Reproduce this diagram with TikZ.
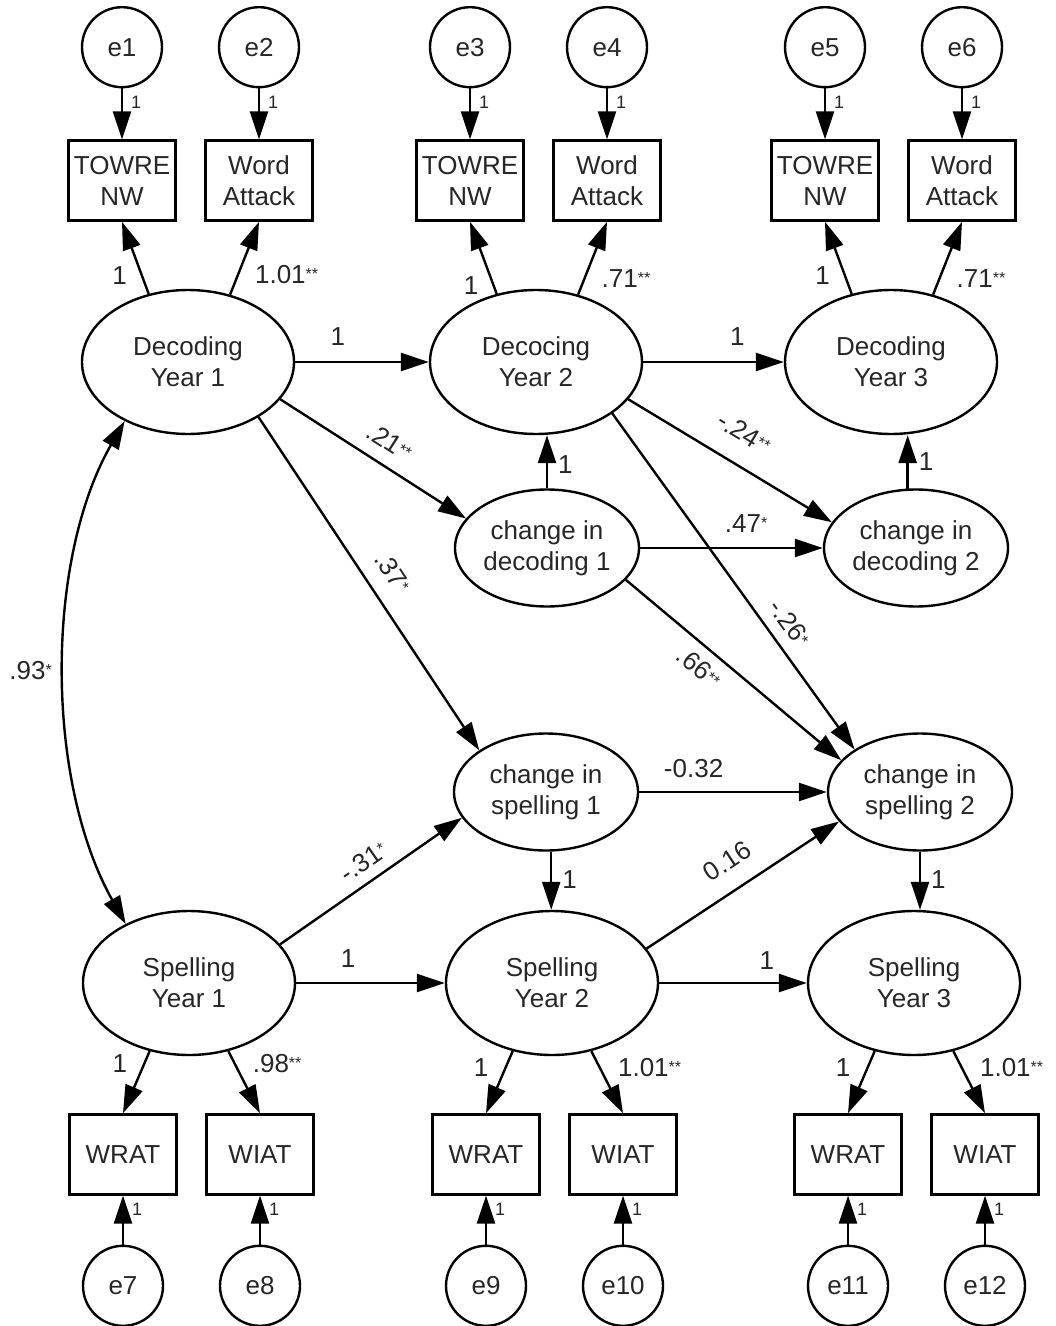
\documentclass[tikz,border=0pt]{standalone}
\usepackage{fontspec}
\setmainfont{Liberation Sans}
\usepackage{tikz}
\usetikzlibrary{arrows.meta,positioning,shapes.geometric}
\newcommand{\semfont}{\fontsize{13}{15.5}\selectfont}
\newcommand{\semsmall}{\fontsize{9}{10}\selectfont}
\newcommand{\sig}[1]{\raisebox{2pt}{\fontsize{8}{8}\selectfont #1}}
\tikzset{
  semlatent/.style={draw, ellipse, line width=1.2pt, minimum width=106pt, minimum height=72pt, inner sep=0pt, align=center, font=\semfont},
  semchange/.style={semlatent, minimum width=92pt, minimum height=58.5pt},
  semobs/.style={draw, line width=1.2pt, minimum width=53.5pt, minimum height=40pt, inner sep=1pt, align=center, font=\semfont},
  semerr/.style={draw, circle, line width=1.2pt, minimum size=40pt, inner sep=0pt, font=\semfont},
  semarrow/.style={-{Triangle[length=14pt,width=9pt]}, line width=1.2pt},
  semcov/.style={{Triangle[length=14pt,width=9pt]}-{Triangle[length=14pt,width=9pt]}, line width=1.2pt},
  semlab/.style={font=\semfont, inner sep=1pt},
  semone/.style={font=\semsmall, inner sep=1pt}
}

\begin{document}
\begin{tikzpicture}[x=0.5pt, y=-0.5pt, text=black!85]
\useasboundingbox (0,0) rectangle (1055,1326);

% latent variables
\node[semlatent] (dy1) at (188,362) {Decoding\\Year 1};
\node[semlatent] (dy2) at (536,362) {Decocing\\Year 2};
\node[semlatent] (dy3) at (891,362) {Decoding\\Year 3};
\node[semchange] (cd1) at (547,548) {change in\\decoding 1};
\node[semchange] (cd2) at (916,548) {change in\\decoding 2};
\node[semchange] (cs1) at (546,792) {change in\\spelling 1};
\node[semchange] (cs2) at (920,792) {change in\\spelling 2};
\node[semlatent] (sy1) at (189,983) {Spelling\\Year 1};
\node[semlatent] (sy2) at (552,983) {Spelling\\Year 2};
\node[semlatent] (sy3) at (914,983) {Spelling\\Year 3};

% decoding indicators
\node[semobs, above=33.5pt of dy1, xshift=-33pt] (tw1) {TOWRE\\NW};
\node[semobs, above=33.5pt of dy1, xshift=35.5pt] (wa1) {Word\\Attack};
\node[semobs, above=33.5pt of dy2, xshift=-33pt] (tw2) {TOWRE\\NW};
\node[semobs, above=33.5pt of dy2, xshift=35.5pt] (wa2) {Word\\Attack};
\node[semobs, above=33.5pt of dy3, xshift=-33pt] (tw3) {TOWRE\\NW};
\node[semobs, above=33.5pt of dy3, xshift=35.5pt] (wa3) {Word\\Attack};
\node[semerr, above=25.5pt of tw1] (e1) {e1};
\node[semerr, above=25.5pt of wa1] (e2) {e2};
\node[semerr, above=25.5pt of tw2] (e3) {e3};
\node[semerr, above=25.5pt of wa2] (e4) {e4};
\node[semerr, above=25.5pt of tw3] (e5) {e5};
\node[semerr, above=25.5pt of wa3] (e6) {e6};

% spelling indicators
\node[semobs, below=28.5pt of sy1, xshift=-33pt] (wr1) {WRAT};
\node[semobs, below=28.5pt of sy1, xshift=35.5pt] (wi1) {WIAT};
\node[semobs, below=28.5pt of sy2, xshift=-33pt] (wr2) {WRAT};
\node[semobs, below=28.5pt of sy2, xshift=35.5pt] (wi2) {WIAT};
\node[semobs, below=28.5pt of sy3, xshift=-33pt] (wr3) {WRAT};
\node[semobs, below=28.5pt of sy3, xshift=35.5pt] (wi3) {WIAT};
\node[semerr, below=24.5pt of wr1] (e7) {e7};
\node[semerr, below=24.5pt of wi1] (e8) {e8};
\node[semerr, below=24.5pt of wr2] (e9) {e9};
\node[semerr, below=24.5pt of wi2] (e10) {e10};
\node[semerr, below=24.5pt of wr3] (e11) {e11};
\node[semerr, below=24.5pt of wi3] (e12) {e12};

% error paths
\draw[semarrow] (e1) -- node[semone, pos=0.27, right=3pt] (o1) {1} (tw1);
\draw[semarrow] (e2) -- node[semone, pos=0.27, right=3pt] (o2) {1} (wa1);
\draw[semarrow] (e3) -- node[semone, pos=0.27, right=3pt] (o3) {1} (tw2);
\draw[semarrow] (e4) -- node[semone, pos=0.27, right=3pt] (o4) {1} (wa2);
\draw[semarrow] (e5) -- node[semone, pos=0.27, right=3pt] (o5) {1} (tw3);
\draw[semarrow] (e6) -- node[semone, pos=0.27, right=3pt] (o6) {1} (wa3);
\draw[semarrow] (e7) -- node[semone, pos=0.73, right=3pt] (o7) {1} (wr1);
\draw[semarrow] (e8) -- node[semone, pos=0.73, right=3pt] (o8) {1} (wi1);
\draw[semarrow] (e9) -- node[semone, pos=0.73, right=3pt] (o9) {1} (wr2);
\draw[semarrow] (e10) -- node[semone, pos=0.73, right=3pt] (o10) {1} (wi2);
\draw[semarrow] (e11) -- node[semone, pos=0.73, right=3pt] (o11) {1} (wr3);
\draw[semarrow] (e12) -- node[semone, pos=0.73, right=3pt] (o12) {1} (wi3);

% loadings
\draw[semarrow] (dy1.120) -- node[semlab, pos=0.25, left=6pt] (ld1) {1} (tw1.south);
\draw[semarrow] (dy1.58) -- node[semlab, pos=0.27, right=7pt] (ld2) {1.01\sig{**}} (wa1.south);
\draw[semarrow] (dy2.120) -- node[semlab, pos=0.12, left=6pt] (ld3) {1} (tw2.south);
\draw[semarrow] (dy2.58) -- node[semlab, pos=0.22, right=7pt] (ld4) {.71\sig{**}} (wa2.south);
\draw[semarrow] (dy3.120) -- node[semlab, pos=0.25, left=6pt] (ld5) {1} (tw3.south);
\draw[semarrow] (dy3.58) -- node[semlab, pos=0.22, right=7pt] (ld6) {.71\sig{**}} (wa3.south);
\draw[semarrow] (sy1.240) -- node[semlab, pos=0.2, left=7pt] (ls1) {1} (wr1.north);
\draw[semarrow] (sy1.300) -- node[semlab, pos=0.2, right=7.5pt] (ls2) {.98\sig{**}} (wi1.north);
\draw[semarrow] (sy2.240) -- node[semlab, pos=0.27, left=7pt] (ls3) {1} (wr2.north);
\draw[semarrow] (sy2.300) -- node[semlab, pos=0.27, right=7.5pt] (ls4) {1.01\sig{**}} (wi2.north);
\draw[semarrow] (sy3.240) -- node[semlab, pos=0.27, left=7pt] (ls5) {1} (wr3.north);
\draw[semarrow] (sy3.300) -- node[semlab, pos=0.27, right=7.5pt] (ls6) {1.01\sig{**}} (wi3.north);

% structural paths
\draw[semarrow] (dy1) -- node[semlab, pos=0.32, above=6.5pt] (p1) {1} (dy2);
\draw[semarrow] (dy2) -- node[semlab, pos=0.67, above=6.5pt] (p2) {1} (dy3);
\draw[semarrow] (dy1.-22) -- node[semlab, pos=0.52, sloped, above=5.5pt] (p3) {.21\sig{**}} (cd1.160);
\draw[semarrow] (dy1.-38) -- node[semlab, pos=0.51, sloped, above=7pt] (p4) {.37\sig{*}} (cs1.148);
\draw[semarrow] (cd1.north) -- node[semlab, pos=0.45, right=4pt] (p5) {1} (cd1.north |- dy2.south);
\draw[semarrow] (cd1) -- node[semlab, pos=0.58, above=6pt] (p6) {.47\sig{*}} (cd2);
\draw[semarrow] (dy2.-22) -- node[semlab, pos=0.49, sloped, above=9.5pt] (p7) {-.24\sig{**}} (cd2.163);
\draw[semarrow] (dy2.-34) -- node[semlab, pos=0.66, sloped, above=4.5pt] (p8) {-.26\sig{*}} (cs2.147);
\draw[semarrow] (cd1.-22) -- node[semlab, pos=0.4, sloped, below=4pt] (p9) {.66\sig{**}} (cs2.158);
\draw[semarrow] (cd2.98) -- node[semlab, pos=0.5, right=4pt] (p10) {1} (cd2.98 |- dy3.south);
\draw[semarrow] (cs1) -- node[semlab, pos=0.29, above=5.5pt] (p11) {-0.32} (cs2);
\draw[semarrow] (cs1.275) -- node[semlab, pos=0.48, right=4pt] (p12) {1} (cs1.275 |- sy2.north);
\draw[semarrow] (cs2.south) -- node[semlab, pos=0.48, right=4pt] (p13) {1} (cs2.south |- sy3.north);
\draw[semarrow] (sy1.23) -- node[semlab, pos=0.52, sloped, above=4pt] (p14) {-.31\sig{*}} (cs1.197);
\draw[semarrow] (sy1) -- node[semlab, pos=0.35, above=6pt] (p15) {1} (sy2);
\draw[semarrow] (sy2.20) -- node[semlab, pos=0.5, sloped, above=8pt] (p16) {0.16} (cs2.200);
\draw[semarrow] (sy2) -- node[semlab, pos=0.73, above=5pt] (p17) {1} (sy3);
\draw[semcov] (dy1.223) .. controls (45,560) and (45,780) .. node[semlab, pos=0.5, left=5pt] (p18) {.93\sig{*}} (sy1.137);
\end{tikzpicture}
\end{document}
